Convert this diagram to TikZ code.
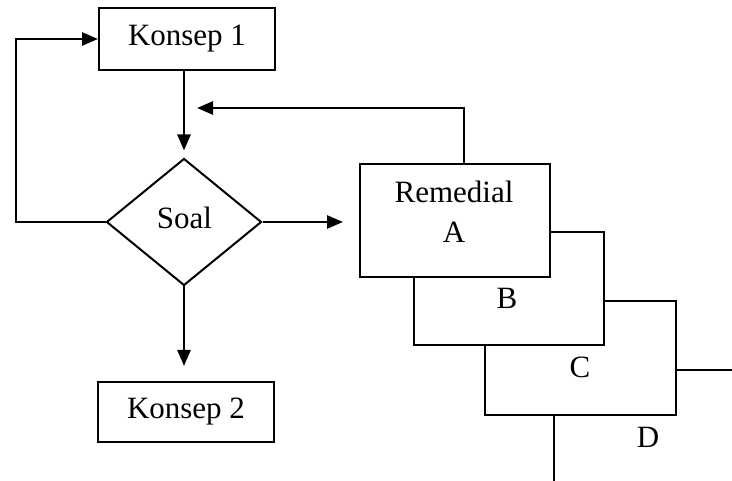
\documentclass[tikz,border=0pt]{standalone}
\usepackage{fontspec}
\setmainfont{Liberation Serif}
\usetikzlibrary{arrows.meta,shapes.geometric}

\begin{document}
\begin{tikzpicture}[x=1pt,y=-1pt,
  every node/.style={font=\fontsize{31}{40}\selectfont},
  box/.style={draw,line width=2pt,fill=white,inner sep=0pt,minimum width=#1},
  box/.default=176,
  rembox/.style={draw,line width=2pt,fill=white,inner sep=0pt,minimum width=190,minimum height=113},
  decision/.style={draw,line width=2pt,diamond,inner sep=0pt,minimum width=155,minimum height=127},
  arr/.style={line width=2.7pt,-{Triangle[length=16pt,width=13pt]}},
  lbl/.style={inner sep=0pt}]
\useasboundingbox (0,0) rectangle (732,481);

% main flow
\node[box,minimum height=62] (k1) at (187,39) {Konsep 1};
\node[decision] (soal) at (184,222) {};
\node[lbl] (soaltxt) at (184.5,218) {Soal};
\node[box,minimum height=60] (k2) at (186,412) {Konsep 2};

% stacked remedial sheets, back to front
\begin{scope}
  \clip (0,0) rectangle (732,481);
  \node[rembox,minimum width=210,minimum height=120,anchor=north west] (remd) at (553,369) {};
\end{scope}
\node[rembox,minimum width=191,minimum height=114,anchor=north west] (remc) at (484,300) {};
\node[rembox,minimum width=190,minimum height=113,anchor=north west] (remb) at (413,231) {};
\node[rembox,anchor=north west] (rema) at (359,163) {};
\node[lbl,align=center] (remtxt) at (454,211.5) {Remedial\\A};
\node[lbl] (lb) at (507,298) {B};
\node[lbl] (lc) at (580,367) {C};
\node[lbl] (ld) at (648,437) {D};

% connectors
\coordinate (loopl) at (16,222);
\coordinate (fbtop) at (464,108);
\coordinate (fbend) at (197,108);
\draw[arr,shorten >=7pt] (k1.south -| soal.north) -- (soal.north);
\draw[arr,shorten >=16pt] (soal.east) -- (soal.east -| rema.west);
\draw[arr,shorten >=15pt] (soal.south) -- (soal.south |- k2.north);
\draw[arr] (soal.west) -- (loopl) |- (k1.west);
\draw[arr] (rema.north -| fbtop) -- (fbtop) -- (fbend);
\end{tikzpicture}
\end{document}
